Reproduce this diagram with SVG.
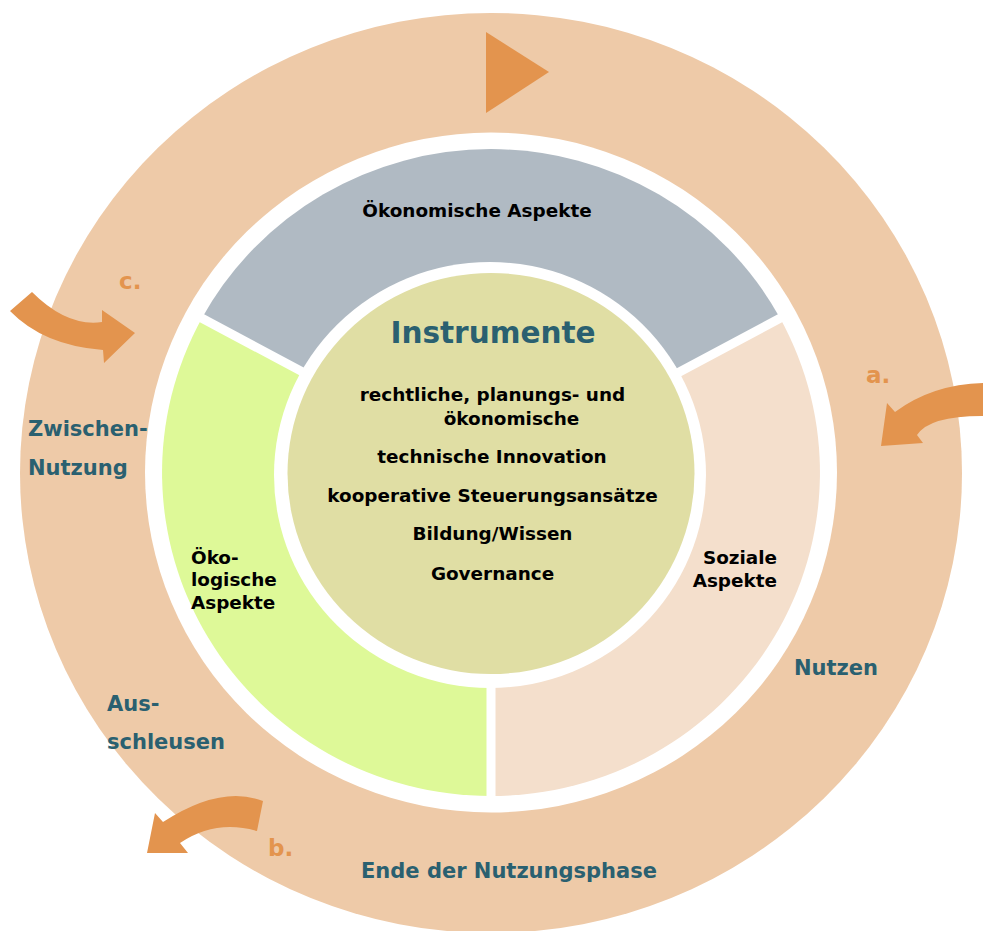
<svg xmlns="http://www.w3.org/2000/svg" width="983" height="931" viewBox="0 0 983 931">
<style>
.blk{font-family:"DejaVu Sans","Liberation Sans",sans-serif;font-weight:bold;font-size:18.4px;fill:#000}
.teal{font-family:"DejaVu Sans","Liberation Sans",sans-serif;font-weight:bold;font-size:21px;fill:#2A6070}
.org{font-family:"DejaVu Sans","Liberation Sans",sans-serif;font-weight:bold;font-size:23px;fill:#E3944E}
.arrow{fill:#E3944E}
.gap{stroke:#fff;stroke-width:9;fill:none}
</style>
<rect width="983" height="931" fill="#fff"/>
<g id="cycle-ring">
<ellipse cx="491" cy="473" rx="471" ry="460" fill="#EECAA8"/>
<ellipse cx="491" cy="472.5" rx="346" ry="340" fill="#fff"/>
</g>
<g id="oekonomische-aspekte">
<path d="M491,472.5 L202,318 A329,323.5 0 0 1 780,318 Z" fill="#B0BAC3"/>
<text class="blk" x="477" y="217" text-anchor="middle">Ökonomische Aspekte</text>
</g>
<g id="soziale-aspekte">
<path d="M491,472.5 L780,318 A329,323.5 0 0 1 491,796 Z" fill="#F4DFCC"/>
<text class="blk" x="777" y="564" text-anchor="end">Soziale</text>
<text class="blk" x="777" y="587" text-anchor="end">Aspekte</text>
</g>
<g id="oekologische-aspekte">
<path d="M491,472.5 L491,796 A329,323.5 0 0 1 202,318 Z" fill="#DEF998"/>
<text class="blk" x="191" y="564">Öko-</text>
<text class="blk" x="191" y="586">logische</text>
<text class="blk" x="191" y="609">Aspekte</text>
</g>
<g id="gaps">
<line class="gap" x1="491" y1="472.5" x2="194" y2="314"/>
<line class="gap" x1="491" y1="472.5" x2="788" y2="314"/>
<line class="gap" x1="491" y1="472.5" x2="491" y2="805"/>
<ellipse cx="490" cy="475" rx="216" ry="213" fill="#fff"/>
</g>
<g id="instrumente">
<ellipse cx="491" cy="473.5" rx="203.5" ry="200.5" fill="#E0DEA4"/>
<text class="teal" style="font-size:29.5px" x="493" y="343" text-anchor="middle">Instrumente</text>
<text class="blk" x="492.5" y="401" text-anchor="middle">rechtliche, planungs- und</text>
<text class="blk" x="511.5" y="425" text-anchor="middle">ökonomische</text>
<text class="blk" x="492" y="463" text-anchor="middle">technische Innovation</text>
<text class="blk" x="492.5" y="502" text-anchor="middle">kooperative Steuerungsansätze</text>
<text class="blk" x="492.5" y="540" text-anchor="middle">Bildung/Wissen</text>
<text class="blk" x="492.5" y="580" text-anchor="middle">Governance</text>
</g>
<g id="connectors">
<polygon class="arrow" points="486,32 549,72 486,113"/>
<path id="arrow-c" class="arrow" d="M10,311 L32,292 Q67,327 102,322 L102,310 L135,333 L104,363 L103,350 Q43.5,345.5 10,311 Z"/>
<path id="arrow-a" class="arrow" d="M990,383 Q935,382.5 895,412 L887,403 L881,446 L923,443 L917,435 Q930,414.5 990,416 Z"/>
<path id="arrow-b" class="arrow" d="M263,801 Q221,784.5 163,822 L155,813 L147,853 L188,853 L180,843 Q215.5,819 257,831 Z"/>
</g>
<g id="labels">
<text class="teal" x="28" y="436">Zwischen-</text>
<text class="teal" x="28" y="475">Nutzung</text>
<text class="teal" x="107" y="711">Aus-</text>
<text class="teal" x="107" y="749">schleusen</text>
<text class="teal" x="794" y="675">Nutzen</text>
<text class="teal" x="361" y="878">Ende der Nutzungsphase</text>
<text class="org" x="119" y="289">c.</text>
<text class="org" x="866" y="383">a.</text>
<text class="org" x="268" y="856">b.</text>
</g>
</svg>
